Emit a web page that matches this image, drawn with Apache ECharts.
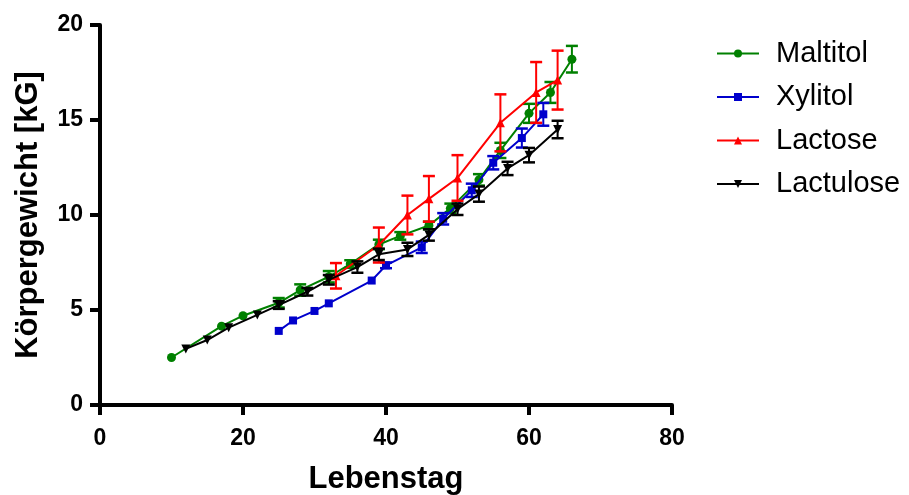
<!DOCTYPE html>
<html>
<head>
<meta charset="utf-8">
<script src="https://cdn.jsdelivr.net/npm/echarts@6/dist/echarts.min.js"></script>
<style>
  html, body { margin: 0; padding: 0; background: #fff; }
  #chart { width: 909px; height: 495px; }
</style>
</head>
<body>
<div id="chart"></div>
<script>
// Daten (Lebenstag, Mittelwert, Fehler)
const maltitolDays = [10, 17, 20, 25, 28, 32, 35, 39, 42, 46, 49, 53, 56, 60, 63, 66];
const maltitolMean = [2.5, 4.15, 4.7, 5.38, 6.05, 6.75, 7.42, 8.45, 8.9, 9.45, 10.35, 11.85, 13.4, 15.35, 16.45, 18.2];
const maltitolErr = [0, 0, 0, 0.25, 0.3, 0.3, 0.2, 0.25, 0.2, 0.2, 0.25, 0.3, 0.4, 0.5, 0.55, 0.7];

const xylitolDays = [25, 27, 30, 32, 38, 40, 45, 48, 52, 55, 59, 62];
const xylitolMean = [3.9, 4.45, 4.95, 5.35, 6.55, 7.35, 8.3, 9.8, 11.3, 12.75, 14.05, 15.3];
const xylitolErr = [0, 0, 0, 0, 0, 0.15, 0.3, 0.3, 0.35, 0.35, 0.5, 0.6];

const lactoseDays = [33, 39, 43, 46, 50, 56, 61, 64];
const lactoseMean = [6.8, 8.42, 10.0, 10.85, 11.95, 14.85, 16.45, 17.1];
const lactoseErr = [0.67, 0.92, 1.02, 1.2, 1.2, 1.5, 1.6, 1.55];

const lactuloseDays = [12, 15, 18, 22, 25, 29, 32, 36, 39, 43, 46, 50, 53, 57, 60, 64];
const lactuloseMean = [2.95, 3.42, 4.07, 4.74, 5.26, 5.96, 6.59, 7.26, 7.93, 8.19, 8.95, 10.3, 11.1, 12.45, 13.15, 14.5];
const lactuloseErr = [0, 0, 0, 0, 0.2, 0.2, 0.25, 0.3, 0.3, 0.35, 0.3, 0.3, 0.4, 0.35, 0.38, 0.46];

const groups = [
  { name: "Maltitol", color: "#008000", symbol: "circle", rotate: 0, days: maltitolDays, mean: maltitolMean, err: maltitolErr },
  { name: "Xylitol", color: "#0000cc", symbol: "rect", rotate: 0, days: xylitolDays, mean: xylitolMean, err: xylitolErr },
  { name: "Lactose", color: "#ff0000", symbol: "triangle", rotate: 0, days: lactoseDays, mean: lactoseMean, err: lactoseErr },
  { name: "Lactulose", color: "#000000", symbol: "triangle", rotate: 180, days: lactuloseDays, mean: lactuloseMean, err: lactuloseErr },
];

const fontFamily = "Liberation Sans, Arial, sans-serif";

// Fehlerbalken
function makeErrRender(color) {
  return function (params, api) {
    const x = api.value(0);
    const y = api.value(1);
    const e = api.value(2);
    if (!e) return null;
    const top = api.coord([x, y + e]);
    const bot = api.coord([x, y - e]);
    const cap = 6;
    const style = { stroke: color, lineWidth: 2 };
    return {
      type: "group",
      children: [
        { type: "line", shape: { x1: top[0], y1: top[1], x2: bot[0], y2: bot[1] }, style: style },
        { type: "line", shape: { x1: top[0] - cap, y1: top[1], x2: top[0] + cap, y2: top[1] }, style: { stroke: color, lineWidth: 2.5 } },
        { type: "line", shape: { x1: bot[0] - cap, y1: bot[1], x2: bot[0] + cap, y2: bot[1] }, style: { stroke: color, lineWidth: 2.5 } },
      ],
    };
  };
}

const series = [];
groups.forEach(function (g, i) {
  series.push({
    name: g.name,
    type: "line",
    data: g.days.map(function (d, k) { return [d, g.mean[k]]; }),
    symbol: g.symbol,
    symbolRotate: g.rotate,
    symbolSize: g.symbol === "rect" ? 8 : 9,
    showAllSymbol: true,
    lineStyle: { color: g.color, width: 2 },
    itemStyle: { color: g.color },
    animation: false,
    z: 3 + i,
  });
  series.push({
    name: g.name + "_err",
    type: "custom",
    data: g.days.map(function (d, k) { return [d, g.mean[k], g.err[k]]; }),
    renderItem: makeErrRender(g.color),
    animation: false,
    silent: true,
    z: 3 + i,
  });
});

const chart = echarts.init(document.getElementById("chart"));
chart.setOption({
  backgroundColor: "#fff",
  animation: false,
  grid: { left: 100, right: 237, top: 25, bottom: 90, containLabel: false, outerBoundsMode: "none" },
  legend: {
    data: groups.map(function (g) { return g.name; }),
    orient: "vertical",
    left: 711,
    top: 34,
    itemWidth: 42,
    itemHeight: 10,
    itemGap: 14.5,
    textStyle: { fontFamily: fontFamily, fontSize: 29, color: "#000", padding: [0, 0, 0, 12] },
  },
  xAxis: {
    type: "value",
    min: 0,
    max: 80,
    interval: 20,
    name: "Lebenstag",
    nameLocation: "middle",
    nameGap: 59,
    nameTextStyle: { fontFamily: fontFamily, fontSize: 31, fontWeight: "bold", color: "#000" },
    axisLine: { lineStyle: { color: "#000", width: 4 } },
    axisTick: { length: 10, lineStyle: { color: "#000", width: 4 } },
    axisLabel: { fontFamily: fontFamily, fontSize: 23, fontWeight: "bold", color: "#000", margin: 22 },
    splitLine: { show: false },
  },
  yAxis: {
    type: "value",
    min: 0,
    max: 20,
    interval: 5,
    name: "Körpergewicht [kG]",
    nameLocation: "middle",
    nameGap: 56,
    nameTextStyle: { fontFamily: fontFamily, fontSize: 31, fontWeight: "bold", color: "#000" },
    axisLine: { lineStyle: { color: "#000", width: 4 } },
    axisTick: { length: 10, lineStyle: { color: "#000", width: 4 } },
    axisLabel: { fontFamily: fontFamily, fontSize: 23, fontWeight: "bold", color: "#000", margin: 17 },
    splitLine: { show: false },
  },
  series: series,
});
</script>
</body>
</html>
